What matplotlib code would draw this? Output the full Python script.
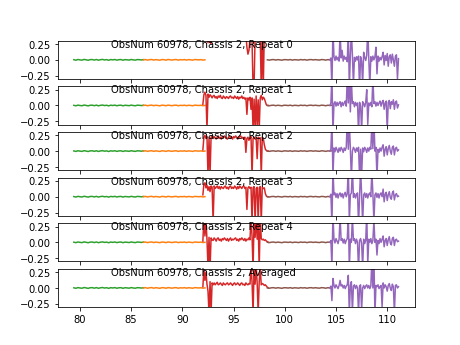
import matplotlib
matplotlib.use("Agg")
import matplotlib.pyplot as plt
import numpy as np

obsnum = 60978
chassis = 2
labels = ["Repeat 0", "Repeat 1", "Repeat 2", "Repeat 3", "Repeat 4", "Averaged"]

# sub-band frequency ranges (start, stop)
band_green = (79.4, 86.2)
band_orange = (86.2, 92.2)
band_red = (92.0, 98.4)
band_brown = (98.3, 104.6)
band_purple = (104.4, 111.1)

# quiet bands, nearly flat
green_vals = [0.003, -0.005, 0.006, 0.0, -0.004, 0.007, 0.001, -0.006, 0.004, 0.005,
              -0.003, 0.006, -0.005, 0.003, 0.007, -0.001, 0.004, -0.006, 0.005, 0.0,
              0.006, -0.004, 0.003, 0.005, -0.005, 0.004, 0.001, -0.003, 0.006, 0.0,
              -0.004, 0.005, 0.003, -0.001, 0.004]
orange_vals = [0.001, 0.005, -0.004, 0.003, 0.006, -0.003, 0.004, 0.0, -0.005, 0.005,
               0.003, -0.004, 0.006, 0.001, -0.003, 0.004, 0.005, -0.004, 0.003, 0.0,
               0.005, -0.003, 0.004, 0.001, -0.004, 0.005, 0.003, 0.0, 0.004, -0.003, 0.001]
brown_vals = [0.001, -0.004, 0.003, 0.005, -0.003, 0.004, 0.0, -0.005, 0.004, 0.003,
              -0.001, 0.005, -0.004, 0.003, 0.001, -0.003, 0.005, 0.0, 0.004, -0.004,
              0.003, 0.005, -0.001, 0.004, 0.0, -0.003, 0.005, 0.003, -0.004, 0.004,
              0.001, 0.005]

red_vals = [
    # Repeat 0
    [0.45, 0.50, 0.40, 0.45, 0.42, 0.27, 0.35, 0.28, 0.26, 0.40,
     0.45, 0.50, 0.48, 0.45, 0.50, 0.47, 0.45, 0.50, 0.48, 0.46,
     0.47, 0.50, 0.45, 0.48, 0.46, 0.50, 0.47, 0.45, 0.49, 0.46,
     0.48, 0.45, 0.47, 0.50, 0.46, 0.48, 0.45, 0.47, 0.49, 0.46,
     0.45, 0.48, 0.40, 0.20, 0.09, 0.15, 0.35, 0.42, 0.30, -0.45,
     -0.40, 0.38, 0.45, 0.40, 0.45, 0.42, 0.35, -0.45, 0.40, -0.42,
     0.45, 0.50, 0.45, 0.48, 0.47],
    # Repeat 1
    [0.02, 0.17, 0.21, 0.16, -0.38, 0.18, 0.13, 0.17, 0.15, 0.12,
     0.15, 0.16, 0.12, 0.14, 0.11, 0.15, 0.13, 0.16, 0.12, 0.11,
     0.15, 0.13, 0.11, 0.14, 0.13, 0.11, 0.14, 0.15, 0.12, 0.13,
     0.11, 0.15, 0.13, 0.11, 0.14, 0.10, 0.13, 0.12, 0.15, 0.11,
     0.13, 0.10, 0.12, -0.14, 0.12, 0.09, 0.13, -0.06, 0.12, -0.38,
     0.10, -0.38, 0.15, -0.32, 0.09, -0.38, 0.12, 0.16, 0.09, 0.13,
     0.11, 0.06, 0.01, 0.0, 0.0],
    # Repeat 2
    [0.02, 0.22, 0.25, 0.20, 0.23, -0.40, 0.21, -0.38, 0.22, 0.24,
     0.20, 0.23, 0.21, 0.19, 0.22, 0.24, 0.20, 0.22, 0.19, 0.23,
     0.21, 0.24, 0.22, 0.20, 0.19, 0.22, 0.24, 0.20, 0.22, 0.19,
     0.23, 0.21, 0.24, 0.22, 0.19, 0.21, 0.23, 0.24, 0.20, 0.22,
     0.19, 0.22, -0.02, 0.20, 0.22, 0.17, 0.21, 0.23, -0.40, 0.20,
     0.22, 0.19, 0.21, -0.12, 0.22, 0.20, 0.21, -0.40, 0.22, 0.20,
     0.10, 0.03, 0.01, 0.0, 0.0],
    # Repeat 3
    [0.03, 0.20, 0.22, 0.14, 0.18, 0.10, 0.16, 0.08, 0.17, 0.15,
     -0.40, 0.17, 0.13, 0.15, 0.17, 0.13, 0.16, 0.12, 0.16, 0.14,
     0.13, 0.16, 0.17, 0.13, 0.15, 0.12, 0.16, 0.17, 0.13, 0.15,
     0.13, 0.17, 0.15, 0.12, 0.16, 0.13, 0.17, 0.15, 0.13, 0.16,
     0.17, 0.13, 0.15, -0.20, 0.14, 0.16, 0.13, 0.15, -0.40, 0.14,
     0.16, -0.40, 0.13, 0.15, -0.40, 0.14, 0.16, -0.40, 0.15, 0.13,
     0.14, 0.05, 0.01, 0.0, 0.0],
    # Repeat 4
    [0.02, 0.40, 0.10, 0.35, 0.05, -0.40, 0.08, -0.42, 0.07, 0.04,
     0.03, 0.07, 0.05, 0.02, 0.06, 0.07, 0.03, 0.05, 0.02, 0.06,
     0.04, 0.07, 0.05, 0.03, 0.06, 0.02, 0.05, 0.07, 0.03, 0.05,
     0.04, 0.06, 0.07, 0.03, 0.05, 0.02, 0.06, 0.04, 0.07, 0.05,
     0.03, 0.06, 0.02, 0.05, 0.04, 0.07, 0.04, 0.40, 0.10, -0.42,
     0.35, 0.08, 0.40, 0.05, 0.30, -0.42, 0.40, 0.06, 0.04, 0.05,
     0.03, 0.04, 0.02, 0.01, 0.0],
    # Averaged
    [0.02, 0.30, 0.12, 0.25, 0.06, -0.05, -0.40, 0.10, -0.38, 0.08,
     0.05, 0.08, 0.05, 0.07, 0.09, 0.05, 0.06, 0.08, 0.06, 0.04,
     0.08, 0.06, 0.05, 0.07, 0.08, 0.05, 0.06, 0.08, 0.06, 0.04,
     0.07, 0.08, 0.05, 0.06, 0.08, 0.06, 0.04, 0.07, 0.08, 0.05,
     0.06, 0.04, 0.08, 0.06, 0.05, 0.07, 0.06, 0.35, 0.10, -0.40,
     0.30, 0.06, 0.38, 0.08, -0.40, 0.10, 0.32, 0.05, 0.07, 0.06,
     0.04, 0.05, 0.03, 0.01, 0.0],
]

purple_vals = [
    # Repeat 0
    [0.0, 0.03, -0.45, 0.50, 0.05, -0.01, 0.06, 0.0, 0.04, -0.02,
     0.45, 0.03, 0.15, -0.02, 0.06, 0.01, 0.04, -0.03, 0.50, -0.45,
     0.07, 0.45, 0.08, -0.40, 0.04, -0.02, 0.05, 0.0, 0.06, -0.45,
     0.05, -0.02, -0.40, 0.12, 0.04, -0.01, 0.07, 0.50, 0.02, -0.42,
     0.05, -0.02, 0.06, 0.0, 0.05, 0.20, -0.22, 0.06, -0.02, 0.04,
     0.0, 0.05, 0.12, -0.08, 0.07, -0.01, 0.10, -0.10, 0.05, 0.08,
     -0.05, 0.09, 0.0, -0.10, 0.06, 0.08, -0.30, 0.02],
    # Repeat 1
    [0.0, 0.04, 0.50, -0.45, 0.03, 0.06, -0.01, 0.05, 0.0, 0.04,
     0.06, -0.02, 0.05, 0.0, 0.04, 0.07, -0.01, 0.45, 0.04, 0.50,
     -0.10, 0.40, 0.03, 0.06, -0.02, 0.05, 0.0, 0.04, -0.45, 0.05,
     -0.01, -0.40, 0.06, 0.03, -0.02, 0.05, 0.25, -0.30, 0.04, 0.0,
     0.05, -0.02, 0.45, 0.03, 0.06, -0.01, 0.05, 0.0, 0.04, 0.07,
     -0.01, 0.05, 0.08, -0.06, 0.04, 0.07, -0.40, 0.05, 0.08, -0.05,
     0.06, 0.02, 0.09, -0.06, 0.05, 0.07, -0.04, 0.01],
    # Repeat 2
    [0.0, 0.03, 0.50, -0.40, 0.05, -0.01, 0.06, 0.02, -0.02, 0.05,
     0.0, 0.06, 0.03, -0.02, 0.05, 0.01, 0.06, 0.50, 0.03, 0.45,
     0.05, -0.45, 0.0, 0.06, 0.03, -0.02, 0.05, 0.0, 0.06, -0.42,
     0.03, -0.40, 0.05, -0.01, 0.06, 0.03, -0.02, 0.05, 0.0, 0.06,
     0.03, 0.45, 0.04, 0.50, 0.0, 0.06, -0.42, 0.03, -0.02, 0.05,
     0.0, 0.06, 0.10, -0.08, 0.03, 0.07, -0.06, 0.04, 0.09, 0.0,
     -0.05, 0.06, 0.08, -0.06, 0.04, 0.06, 0.0, 0.02],
    # Repeat 3
    [0.0, 0.04, -0.45, 0.45, 0.03, 0.06, -0.01, 0.05, -0.02, 0.04,
     0.06, 0.0, 0.05, -0.02, 0.04, 0.07, 0.0, 0.05, 0.50, -0.40,
     0.03, 0.06, 0.45, -0.01, 0.05, -0.02, 0.04, 0.06, -0.45, 0.0,
     0.45, 0.04, -0.42, 0.03, 0.06, -0.01, 0.05, -0.02, 0.04, 0.06,
     0.0, 0.40, 0.05, -0.40, 0.03, 0.06, -0.01, 0.05, -0.02, 0.04,
     0.06, 0.0, 0.12, -0.08, 0.04, 0.07, -0.06, 0.03, 0.08, -0.01,
     -0.04, 0.06, 0.09, -0.05, 0.03, 0.05, 0.0, 0.01],
    # Repeat 4
    [0.0, 0.03, -0.40, 0.45, 0.05, -0.01, 0.06, 0.02, -0.02, 0.05,
     0.40, 0.03, 0.06, -0.01, 0.05, -0.02, 0.03, 0.06, 0.45, -0.42,
     0.05, 0.0, 0.40, 0.03, 0.06, -0.02, 0.05, 0.0, -0.45, 0.03,
     0.06, -0.01, -0.40, 0.05, -0.02, 0.03, 0.45, -0.35, 0.05, 0.0,
     0.06, -0.02, 0.03, 0.35, 0.0, 0.05, -0.20, 0.03, -0.02, 0.06,
     0.0, 0.05, 0.10, -0.07, 0.03, 0.06, -0.05, 0.04, 0.09, -0.01,
     -0.04, 0.06, 0.08, -0.05, 0.04, 0.05, 0.01, 0.02],
    # Averaged
    [0.0, 0.03, -0.20, 0.15, 0.04, 0.0, 0.05, 0.02, -0.01, 0.04,
     0.12, 0.03, 0.05, 0.0, 0.04, -0.01, 0.03, 0.05, 0.20, -0.40,
     0.04, 0.10, -0.38, 0.03, 0.05, -0.01, 0.04, 0.0, -0.40, 0.03,
     0.05, -0.35, 0.0, 0.04, -0.01, 0.03, 0.05, 0.0, 0.04, -0.01,
     0.03, 0.45, 0.0, 0.50, -0.42, 0.04, 0.02, 0.05, -0.01, 0.02,
     0.04, -0.30, 0.08, 0.0, 0.05, 0.02, -0.05, 0.04, 0.07, 0.0,
     -0.04, 0.06, 0.02, -0.40, 0.04, 0.05, 0.0, 0.02],
]


def freqs(band, vals):
    return np.linspace(band[0], band[1], len(vals))


fig, axes = plt.subplots(6, 1, sharex=True, figsize=(6.4, 4.8), dpi=72)

for i, ax in enumerate(axes):
    ax.plot(freqs(band_green, green_vals), green_vals, color="tab:green")
    ax.plot(freqs(band_orange, orange_vals), orange_vals, color="tab:orange")
    ax.plot(freqs(band_red, red_vals[i]), red_vals[i], color="tab:red")
    ax.plot(freqs(band_brown, brown_vals), brown_vals, color="tab:brown")
    ax.plot(freqs(band_purple, purple_vals[i]), purple_vals[i], color="tab:purple")
    ax.set_ylim(-0.3, 0.3)
    ax.set_yticks([-0.25, 0.0, 0.25])
    ax.text(83, 0.2, "ObsNum %d, Chassis %d, %s" % (obsnum, chassis, labels[i]))

plt.savefig("out.png", dpi=72)
